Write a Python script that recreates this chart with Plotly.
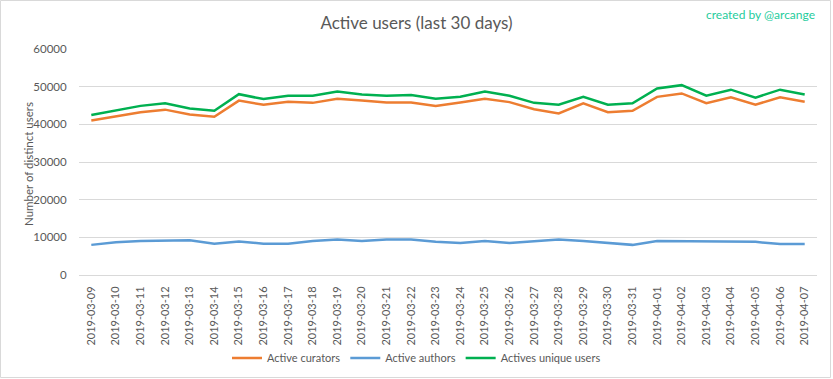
import plotly.graph_objects as go

dates = ["2019-03-09", "2019-03-10", "2019-03-11", "2019-03-12", "2019-03-13", "2019-03-14",
         "2019-03-15", "2019-03-16", "2019-03-17", "2019-03-18", "2019-03-19", "2019-03-20",
         "2019-03-21", "2019-03-22", "2019-03-23", "2019-03-24", "2019-03-25", "2019-03-26",
         "2019-03-27", "2019-03-28", "2019-03-29", "2019-03-30", "2019-03-31", "2019-04-01",
         "2019-04-02", "2019-04-03", "2019-04-04", "2019-04-05", "2019-04-06", "2019-04-07"]

active_curators = [41000, 42200, 43200, 43900, 42600, 42000, 46300, 45200, 46000, 45700,
                   46800, 46300, 45800, 45800, 44900, 45800, 46800, 45900, 44000, 42900,
                   45600, 43200, 43600, 47300, 48200, 45600, 47200, 45200, 47200, 46000]

active_authors = [8000, 8700, 9000, 9200, 9200, 8300, 8900, 8300, 8300, 9000,
                  9400, 9000, 9400, 9400, 8800, 8500, 9000, 8500, 8900, 9400,
                  9000, 8500, 8000, 9000, 9000, 9000, 9000, 8800, 8200, 8200]

unique_users = [42500, 43700, 44900, 45600, 44200, 43600, 48000, 46700, 47600, 47600,
                48700, 47900, 47600, 47800, 46800, 47300, 48700, 47600, 45700, 45200,
                47300, 45200, 45600, 49500, 50400, 47600, 49200, 47100, 49200, 47900]

y_ticks = [0, 10000, 20000, 30000, 40000, 50000, 60000]

FONT = "Lato"
GRAY = "#595959"

fig = go.Figure()
fig.add_trace(go.Scatter(x=dates, y=active_curators, mode="lines", name="Active curators",
                         line=dict(color="#ED7D31", width=2.5)))
fig.add_trace(go.Scatter(x=dates, y=active_authors, mode="lines", name="Active authors",
                         line=dict(color="#5B9BD5", width=2.5)))
fig.add_trace(go.Scatter(x=dates, y=unique_users, mode="lines", name="Actives unique users",
                         line=dict(color="#00B050", width=2.5)))

L, R, T, B = 79, 16, 49, 104
W, H = 833, 379
pw, ph = W - L - R, H - T - B

def px_x(x):
    return (x - L) / pw

def px_y(y):
    return (H - B - y) / ph

fig.update_layout(
    width=W, height=H,
    margin=dict(l=L, r=R, t=T, b=B, pad=0),
    paper_bgcolor="white", plot_bgcolor="white",
    font=dict(family=FONT, color=GRAY, size=11),
    title=dict(text="Active users (last 30 days)", x=0.5, xanchor="center",
               y=1 - 23 / H, yanchor="middle",
               font=dict(family=FONT, size=17, color=GRAY)),
    showlegend=True,
    legend=dict(orientation="h", xref="container", x=0.5, xanchor="center",
                yref="container", y=1 - 358 / H, yanchor="middle",
                font=dict(family=FONT, size=11, color=GRAY), itemwidth=30,
                bgcolor="rgba(0,0,0,0)", tracegroupgap=0),
    xaxis=dict(type="category", categoryorder="array", categoryarray=dates,
               range=[-0.5, len(dates) - 0.5], tickangle=-90, automargin=False,
               showgrid=False, zeroline=False, showline=True, linecolor="#D9D9D9", linewidth=1,
               ticks="outside", ticklen=6, tickcolor="rgba(0,0,0,0)",
               tickfont=dict(family=FONT, size=11, color=GRAY)),
    yaxis=dict(range=[0, 60000], tickvals=y_ticks, ticktext=[str(v) for v in y_ticks],
               automargin=False,
               showgrid=True, gridcolor="#D9D9D9", gridwidth=1, zeroline=False, showline=False,
               ticks="outside", ticklen=9, tickcolor="rgba(0,0,0,0)",
               tickfont=dict(family=FONT, size=11.5, color=GRAY)),
    annotations=[
        dict(text="Number of distinct users", textangle=-90, xref="paper", yref="paper",
             x=px_x(28), y=px_y(164), xanchor="center", yanchor="middle", showarrow=False,
             font=dict(family=FONT, size=11.5, color=GRAY)),
        dict(text="created by @arcange", xref="paper", yref="paper",
             x=px_x(817), y=px_y(14), xanchor="right", yanchor="middle", showarrow=False,
             font=dict(family=FONT, size=12, color="#25CC9C")),
    ],
    shapes=[
        dict(type="rect", xref="paper", yref="paper",
             x0=px_x(0.5), x1=px_x(830.5), y0=px_y(377.5), y1=px_y(0.5),
             line=dict(color="#D9D9D9", width=1), fillcolor="rgba(0,0,0,0)", layer="below"),
    ],
)

fig.write_html("out.html", config={"displayModeBar": False},
               post_script="document.body.style.margin='0';document.body.style.overflow='hidden';")
